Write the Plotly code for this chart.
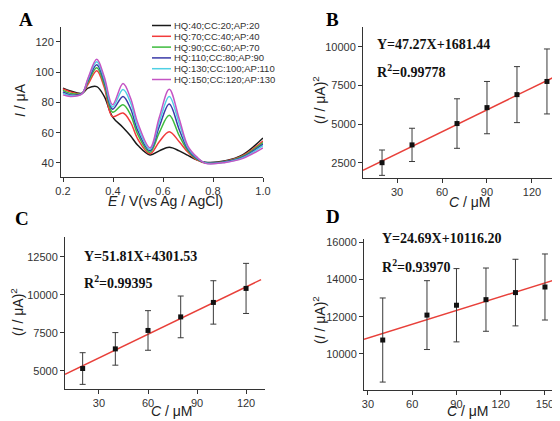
import plotly.graph_objects as go

# --- panel A: DPV curves ---
A_x = [0.20, 0.23, 0.275, 0.30, 0.335, 0.365, 0.398, 0.44, 0.47, 0.50,
       0.548, 0.585, 0.625, 0.665, 0.70, 0.735, 0.77, 0.85, 0.92, 1.00]
A_curves = {
    "HQ:40;CC:20;AP:20":    [89.5, 87.6, 86, 89.5, 90.5, 84, 70.5, 63.5, 58, 51.5, 45.3, 48, 50.4, 48, 45, 42, 40.5, 41.5, 45.5, 56.5],
    "HQ:70;CC:40;AP:40":    [89, 87, 86, 92, 101, 90, 70.6, 73, 67, 55.5, 46, 54, 60.7, 54, 47, 42, 40, 41.2, 45, 54.5],
    "HQ:90;CC:60;AP:70":    [88, 86, 86, 93.5, 103, 92, 73.5, 78.5, 72, 58.5, 47, 60, 71.5, 58, 48, 42.5, 40, 41, 44.5, 53.5],
    "HQ:110;CC:80;AP:90":   [87, 85, 85.8, 94.5, 105, 94, 75.5, 84, 76, 61, 48, 64, 79, 62, 49, 43, 40, 40.8, 44, 52.5],
    "HQ:130;CC:100;AP:110": [86, 84.5, 85.6, 95.5, 107, 95.5, 77, 88.5, 80, 63.5, 49, 67, 84, 66, 50, 43.5, 40, 40.5, 43.5, 51.5],
    "HQ:150;CC:120;AP:130": [85, 84, 85.5, 96, 108.5, 97, 78.5, 92.5, 83, 66, 50, 70, 88.7, 69, 51, 44, 39.7, 40.3, 43, 50],
}
A_colors = ["#1a1a1a", "#f23b3b", "#3dbb3d", "#3a3aa8", "#4fd0e4", "#c455c4"]

# --- panels B, C, D: calibration points ---
B_x = [20, 40, 70, 90, 110, 130]
B_y = [2520, 3670, 5050, 6080, 6920, 7770]
B_err = [820, 1075, 1600, 1690, 1810, 2100]
B_fit_x = [7.3, 138.7]
B_fit_y = [2027, 8238]

C_x = [20, 40, 60, 80, 100, 120]
C_y = [5160, 6450, 7660, 8550, 9500, 10420]
C_err = [1040, 1070, 1300, 1370, 1425, 1645]
C_fit_x = [9.2, 129.2]
C_fit_y = [4778, 10995]

D_x = [40, 70, 90, 110, 130, 150]
D_y = [10750, 12090, 12620, 12920, 13300, 13600]
D_err = [2260, 1850, 1970, 1700, 1790, 1775]
D_fit_x = [27.3, 160.2]
D_fit_y = [10790, 14072]

# page is shown with the default 8px body margin, so the figure sits at (8, 8)
OFF = 8
W, H = 560 - OFF, 421 - OFF
SANS = "Liberation Sans, Arial, sans-serif"
SERIF = "Liberation Serif, Times New Roman, serif"
AXC = "#333333"
RED = "#e8403a"


def px(x):
    return (x - OFF) / W


def py(y):
    return 1 - (y - OFF) / H


fig = go.Figure()

for (name, vals), col in zip(A_curves.items(), A_colors):
    fig.add_trace(go.Scatter(x=A_x, y=vals, mode="lines", name=name,
                             line=dict(color=col, width=1.5, shape="spline", smoothing=1.0),
                             xaxis="x", yaxis="y", showlegend=False))

panels = [("2", B_x, B_y, B_err, B_fit_x, B_fit_y),
          ("3", C_x, C_y, C_err, C_fit_x, C_fit_y),
          ("4", D_x, D_y, D_err, D_fit_x, D_fit_y)]
for k, xs, ys, es, fx, fy in panels:
    fig.add_trace(go.Scatter(x=fx, y=fy, mode="lines", line=dict(color=RED, width=1.4),
                             xaxis="x" + k, yaxis="y" + k, showlegend=False))
    fig.add_trace(go.Scatter(x=xs, y=ys, mode="markers",
                             marker=dict(symbol="square", size=5, color="#111111"),
                             error_y=dict(type="data", array=es, color="#3a3a3a", thickness=1, width=3),
                             xaxis="x" + k, yaxis="y" + k, showlegend=False))

ax = dict(showline=True, linecolor=AXC, linewidth=1, ticks="outside", ticklen=4,
          tickcolor=AXC, showgrid=False, zeroline=False, mirror=False, automargin=False,
          tickfont=dict(family=SANS, size=11, color=AXC))

fig.update_layout(
    width=W, height=H, margin=dict(l=0, r=0, t=0, b=0),
    paper_bgcolor="white", plot_bgcolor="white", showlegend=False,
    xaxis=dict(ax, domain=[px(61), px(263)], range=[0.192, 1.0], tickvals=[0.2, 0.4, 0.6, 0.8, 1.0],
               tickformat=".1f", anchor="y"),
    yaxis=dict(ax, domain=[py(177), py(27)], range=[30.7, 129.9], tickvals=[40, 60, 80, 100, 120], anchor="x"),
    xaxis2=dict(ax, domain=[px(363), 1.0], range=[7.3, 138.7], tickvals=[30, 60, 90, 120], anchor="y2"),
    yaxis2=dict(ax, domain=[py(178), py(27)], range=[1530, 11290], tickvals=[2500, 5000, 7500, 10000],
                tickformat="d", anchor="x2"),
    xaxis3=dict(ax, domain=[px(65), px(265)], range=[9.2, 131.6], tickvals=[30, 60, 90, 120], anchor="y3"),
    yaxis3=dict(ax, domain=[py(389), py(237)], range=[3816, 13796], tickvals=[5000, 7500, 10000, 12500],
                tickformat="d", anchor="x3"),
    xaxis4=dict(ax, domain=[px(364), 1.0], range=[27.3, 160.2], tickvals=[30, 60, 90, 120, 150], anchor="y4"),
    yaxis4=dict(ax, domain=[py(390), py(239)], range=[8064, 16180], tickvals=[10000, 12000, 14000, 16000],
                tickformat="d", anchor="x4"),
)

ann = []


def text(x, y, s, size, family=SANS, bold=False, angle=0, xanchor="center", color="#222222"):
    if bold:
        s = "<b>" + s + "</b>"
    ann.append(dict(x=px(x), y=py(y), xref="paper", yref="paper", text=s, showarrow=False,
                    textangle=angle, xanchor=xanchor, yanchor="middle",
                    font=dict(family=family, size=size, color=color)))


# panel letters
text(26, 19, "A", 19, SERIF, True, color="#000000")
text(332, 20, "B", 19, SERIF, True, color="#000000")
text(22, 218, "C", 19, SERIF, True, color="#000000")
text(333, 217, "D", 19, SERIF, True, color="#000000")

# axis titles
YT = "(<i>I</i> / μA)<sup>2</sup>"
XT = "<i>C</i> / μM"
text(165, 201, "<i>E</i> / V(vs Ag / AgCl)", 14)
text(20, 100, "<i>I</i> / μA", 14, angle=-90)
text(470, 202, XT, 14)
text(319, 100, YT, 14, angle=-90)
text(172, 411, XT, 14)
text(17, 312, YT, 14, angle=-90)
text(468, 411, XT, 14)
text(319, 320, YT, 14, angle=-90)

# regression equations
text(375, 44, "Y=47.27X+1681.44", 14, SERIF, True, xanchor="left", color="#111111")
text(375, 71, "R<sup>2</sup>=0.99778", 14, SERIF, True, xanchor="left", color="#111111")
text(82, 257, "Y=51.81X+4301.53", 14, SERIF, True, xanchor="left", color="#111111")
text(82, 282, "R<sup>2</sup>=0.99395", 14, SERIF, True, xanchor="left", color="#111111")
text(380, 239, "Y=24.69X+10116.20", 14, SERIF, True, xanchor="left", color="#111111")
text(380, 266, "R<sup>2</sup>=0.93970", 14, SERIF, True, xanchor="left", color="#111111")

# legend of panel A drawn by hand (compact rows)
shapes = []
for i, (name, col) in enumerate(zip(A_curves.keys(), A_colors)):
    yy = 25.5 + 10.8 * i
    shapes.append(dict(type="line", xref="paper", yref="paper", x0=px(152), x1=px(171),
                       y0=py(yy), y1=py(yy), line=dict(color=col, width=1.5)))
    text(172, yy, name, 9.5, xanchor="left", color="#333333")

fig.update_layout(annotations=ann, shapes=shapes)
fig.write_html("out.html")
